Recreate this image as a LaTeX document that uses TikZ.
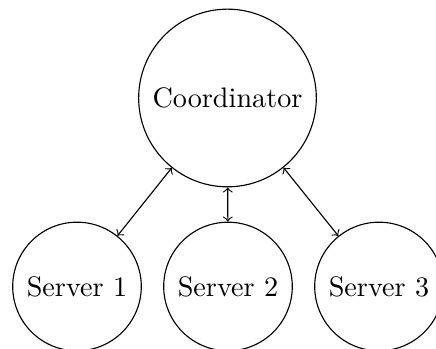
\documentclass[tikz,border=0pt]{standalone}
\begin{document}
\begin{tikzpicture}[x=0.3546pt,y=-0.3546pt,
  bignode/.style={circle,draw,minimum size=63pt,inner sep=0pt},
  srvnode/.style={circle,draw,minimum size=45.6pt,inner sep=0pt},
  link/.style={<->}]
\useasboundingbox (0,0) rectangle (436,349);
\node[bignode] (c) at (227.5,98) {Coordinator};
\node[srvnode] (s1) at (77,286.5) {Server 1};
\node[srvnode] (s2) at (228,286.5) {Server 2};
\node[srvnode] (s3) at (379,286.5) {Server 3};
\draw[link] (c) -- (s1);
\draw[link] (c) -- (s2);
\draw[link] (c) -- (s3);
\end{tikzpicture}
\end{document}
